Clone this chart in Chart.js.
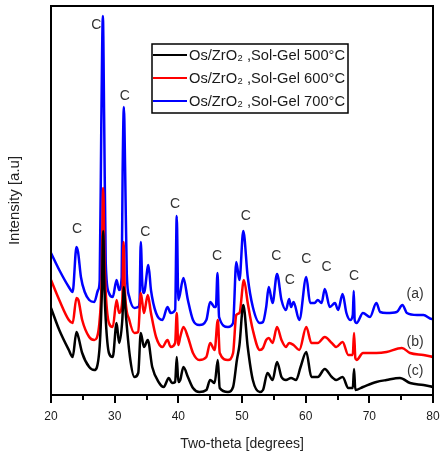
<!DOCTYPE html>
<html>
<head>
<meta charset="utf-8">
<script src="https://cdn.jsdelivr.net/npm/chart.js@4.4.1/dist/chart.umd.min.js"></script>
<style>
html,body{margin:0;padding:0;background:#fff;}
canvas{display:block;}
</style>
</head>
<body>
<canvas id="c" width="440" height="457"></canvas>
<script>
// ---- data ----
const seriesNames = ["Os/ZrO\u2082 ,Sol-Gel 500\u00B0C", "Os/ZrO\u2082 ,Sol-Gel 600\u00B0C", "Os/ZrO\u2082 ,Sol-Gel 700\u00B0C"];
const seriesColors = ["#000000", "#ff0000", "#0000ff"];

const theta500 = [20.0,21.3,22.8,23.4,24.0,24.3,24.9,26.0,26.8,27.6,28.0,28.2,28.4,28.6,29.1,29.7,30.3,30.7,31.2,31.45,31.7,32.4,33.1,33.7,34.1,34.6,35.2,35.9,37.0,37.7,38.5,39.0,39.5,39.75,40.0,40.3,40.8,41.5,42.3,43.3,44.4,45.0,45.7,46.2,46.5,47.8,48.6,49.2,49.6,50.2,50.9,51.7,52.8,53.3,54.0,54.8,55.5,56.2,56.9,57.7,58.5,59.2,60.1,60.9,61.9,63.0,64.1,64.8,65.8,66.7,67.4,67.6,67.8,69.0,71.1,72.7,74.8,76.4,78.5,80.0];
const int500   = [87,65,45,38,63,58,42,28,25,45,105,164,105,75,42,38,72,52,75,108,85,38,18,22,62,48,55,28,12,8,17,12,13,38,13,15,28,18,7,3,5,15,12,35,7,3,8,35,50,90,48,15,3,5,22,15,33,18,15,17,15,28,43,18,18,26,18,15,18,7,7,26,5,8,13,15,17,12,10,8];

const theta600 = [20.0,21.3,22.8,23.4,24.0,24.3,24.9,26.0,26.8,27.6,27.95,28.2,28.4,28.6,29.1,29.7,30.3,30.7,31.2,31.4,31.6,32.3,33.1,33.7,34.1,34.6,35.2,35.7,36.5,37.5,38.3,38.8,39.5,39.75,40.0,40.3,40.8,41.5,42.3,43.3,44.4,45.0,45.7,46.2,46.5,47.8,48.6,49.1,49.6,50.3,50.9,51.7,52.8,53.3,53.8,54.2,54.8,55.5,56.2,56.9,57.4,58.1,59.0,60.1,60.9,61.9,63.0,64.1,64.8,65.8,66.7,67.4,67.6,67.8,68.0,69.0,71.1,72.7,75.1,76.4,78.5,80.0];
const int600   = [115,95,75,72,97,95,75,58,55,72,115,207,135,102,72,68,95,82,95,153,105,75,62,63,102,82,100,82,58,48,55,48,52,82,50,58,68,58,42,35,38,52,45,75,42,35,42,80,82,115,92,65,45,47,55,57,52,68,55,48,52,50,45,68,52,52,58,52,48,53,40,40,62,37,35,42,42,43,47,42,40,38];

const theta700 = [20.0,21.3,22.8,23.4,24.0,24.25,24.7,25.3,26.0,26.8,27.4,27.65,27.9,28.15,28.35,28.6,29.1,29.7,30.3,30.7,31.1,31.25,31.45,31.65,31.9,32.3,33.1,33.7,33.9,34.1,34.35,34.6,35.3,35.7,36.5,37.5,38.3,38.8,39.5,39.75,40.0,40.8,41.5,42.3,43.3,44.4,45.0,45.7,45.9,46.15,46.4,47.8,48.6,49.1,49.6,50.2,50.9,51.7,52.8,53.3,53.8,54.2,54.8,55.5,56.2,56.9,57.4,57.7,58.1,59.0,60.1,60.7,61.4,61.9,62.5,63.0,63.8,64.6,65.1,65.8,66.4,67.0,67.4,67.55,67.7,68.0,69.0,70.1,71.1,71.7,72.7,74.3,75.2,75.9,77.5,78.5,79.8,80.0];
const int700   = [142,125,108,103,148,143,118,103,95,93,105,115,270,379,275,132,102,98,115,105,118,223,288,223,122,98,87,88,92,153,110,102,130,105,82,75,88,82,85,179,95,117,95,75,70,75,93,88,88,122,78,68,72,133,115,164,118,88,72,73,88,108,92,121,95,85,96,88,93,75,118,92,92,95,92,106,88,92,85,101,82,75,80,104,75,72,82,78,92,83,82,83,90,82,80,80,76,76];

const xTicks = [20,30,40,50,60,70,80];
const xMinorTicks = [25,35,45,55,65,75];

const peakLabelTheta = [24.1,27.1,31.6,34.8,39.5,46.1,50.6,55.4,57.5,60.1,63.3,67.6];
const peakLabelInt   = [166,370,299,163,191,139,179,139,115,136,128,119];
const peakLabelText  = "C";

const curveLabels = ["(a)","(b)","(c)"];
const curveLabelTheta = [77.2,77.2,77.2];
const curveLabelInt   = [101,53,24];

// ---- chart ----
function pts(xs, ys){ return xs.map((x,i)=>({x:x,y:ys[i]})); }

const FONT = "'Liberation Sans', Arial, sans-serif";

const extrasPlugin = {
  id: 'extras',
  afterDraw(chart){
    const ctx = chart.ctx;
    const ca = chart.chartArea;
    const xs = chart.scales.x, ys = chart.scales.y;
    ctx.save();
    // frame
    ctx.strokeStyle = '#000';
    ctx.lineWidth = 2;
    ctx.strokeRect(ca.left, ca.top, ca.right-ca.left, ca.bottom-ca.top);
    // minor ticks
    ctx.lineWidth = 2;
    xMinorTicks.forEach(v=>{
      const px = Math.round(xs.getPixelForValue(v));
      ctx.beginPath(); ctx.moveTo(px, ca.bottom); ctx.lineTo(px, ca.bottom+5); ctx.stroke();
    });
    // peak labels
    ctx.fillStyle = '#333';
    ctx.font = "14px " + FONT;
    ctx.textAlign = 'center';
    ctx.textBaseline = 'middle';
    peakLabelTheta.forEach((t,i)=>{
      ctx.fillText(peakLabelText, xs.getPixelForValue(t), ys.getPixelForValue(peakLabelInt[i]));
    });
    curveLabels.forEach((s,i)=>{
      ctx.fillText(s, xs.getPixelForValue(curveLabelTheta[i]), ys.getPixelForValue(curveLabelInt[i]));
    });
    // legend
    const lx = ca.left + 101, ly = ca.top + 38, lw = 196, lh = 69;
    ctx.fillStyle = '#fff';
    ctx.fillRect(lx, ly, lw, lh);
    ctx.strokeStyle = '#000';
    ctx.lineWidth = 1.5;
    ctx.strokeRect(lx, ly, lw, lh);
    ctx.textAlign = 'left';
    ctx.font = "14.7px " + FONT;
    seriesNames.forEach((n,i)=>{
      const yy = ly + 11 + i*23;
      ctx.strokeStyle = seriesColors[i];
      ctx.lineWidth = 2;
      ctx.beginPath(); ctx.moveTo(lx+1, yy); ctx.lineTo(lx+35, yy); ctx.stroke();
      ctx.fillStyle = '#1a1a1a';
      ctx.fillText(n, lx+37, yy+1);
    });
    ctx.restore();
  }
};

new Chart(document.getElementById('c'), {
  type: 'line',
  data: {
    datasets: [
      {label: seriesNames[0], data: pts(theta500, int500), borderColor: seriesColors[0]},
      {label: seriesNames[1], data: pts(theta600, int600), borderColor: seriesColors[1]},
      {label: seriesNames[2], data: pts(theta700, int700), borderColor: seriesColors[2]}
    ]
  },
  options: {
    responsive: false,
    animation: false,
    elements: { point: {radius: 0}, line: {borderWidth: 2.5, cubicInterpolationMode: 'monotone', borderJoinStyle: 'round'} },
    layout: { padding: {top: 6, right: 7, left: 0, bottom: 0} },
    plugins: { legend: {display: false}, tooltip: {enabled: false} },
    scales: {
      x: {
        type: 'linear', min: 20, max: 80,
        afterBuildTicks: (s)=>{ s.ticks = xTicks.map(v=>({value:v})); },
        afterFit: (s)=>{ s.height = 62; s.paddingRight = 0; s.paddingLeft = 0; },
        border: {display: false},
        grid: {drawOnChartArea: false, drawTicks: true, tickLength: 8, color: '#000', lineWidth: 2},
        ticks: {color: '#1a1a1a', font: {family: FONT, size: 12}, padding: 6, maxRotation: 0},
        title: {display: true, text: 'Two-theta [degrees]', color: '#222', font: {family: FONT, size: 14}, padding: {top: 0, bottom: 4}}
      },
      y: {
        type: 'linear', min: 0, max: 389,
        afterFit: (s)=>{ s.width = 51; },
        border: {display: false},
        grid: {display: false},
        ticks: {display: false},
        title: {display: true, text: 'Intensity [a.u]', color: '#222', font: {family: FONT, size: 15}, padding: {top: 6, bottom: 0}}
      }
    }
  },
  plugins: [extrasPlugin]
});
</script>
</body>
</html>
